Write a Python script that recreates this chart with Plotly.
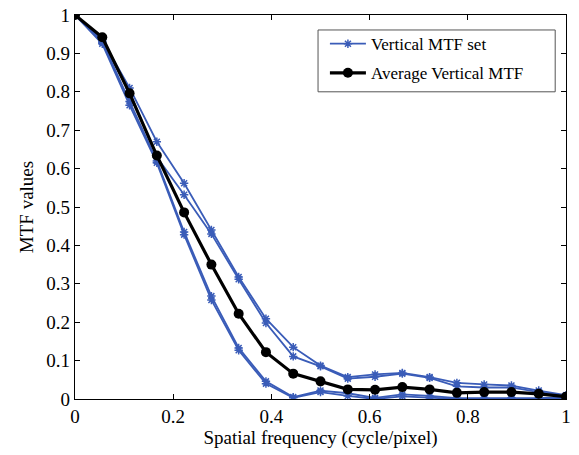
import plotly.graph_objects as go

freq = [k / 18 for k in range(19)]

mtf_a = [1.0, 0.935, 0.81, 0.67, 0.562, 0.44, 0.318, 0.209, 0.135, 0.087, 0.057, 0.064, 0.068, 0.057, 0.042, 0.038, 0.035, 0.022, 0.010]
mtf_b = [1.0, 0.930, 0.80, 0.63, 0.532, 0.43, 0.312, 0.198, 0.111, 0.085, 0.053, 0.058, 0.066, 0.055, 0.033, 0.030, 0.030, 0.018, 0.008]
mtf_c = [1.0, 0.930, 0.775, 0.62, 0.435, 0.268, 0.133, 0.046, 0.005, 0.022, 0.015, 0.003, 0.012, 0.008, 0.002, 0.002, 0.003, 0.002, 0.005]
mtf_d = [1.0, 0.925, 0.765, 0.615, 0.428, 0.258, 0.127, 0.040, 0.003, 0.018, 0.008, 0.000, 0.007, 0.003, 0.000, 0.000, 0.000, 0.000, 0.003]
mtf_avg = [1.0, 0.942, 0.796, 0.634, 0.486, 0.350, 0.222, 0.122, 0.066, 0.046, 0.025, 0.024, 0.031, 0.025, 0.016, 0.018, 0.018, 0.0135, 0.006]

blue = "#3a5cb8"
font = "Liberation Serif"

fig = go.Figure()
for i, ys in enumerate([mtf_a, mtf_b, mtf_c, mtf_d]):
    fig.add_trace(go.Scatter(
        x=freq, y=ys, mode="lines+markers",
        name="Vertical MTF set", legendgroup="set", showlegend=(i == 0),
        line=dict(color=blue, width=1.8),
        marker=dict(symbol="asterisk-open", size=7, color=blue, line=dict(color=blue, width=1.5)),
    ))
fig.add_trace(go.Scatter(
    x=freq, y=mtf_avg, mode="lines+markers", name="Average Vertical MTF",
    line=dict(color="black", width=3.2),
    marker=dict(symbol="circle", size=10, color="black"),
))

axis_common = dict(
    showline=True, linecolor="black", linewidth=1.3, mirror="ticks",
    ticks="inside", ticklen=5, tickcolor="black", showgrid=False, zeroline=False,
    automargin=False, ticklabeloverflow="allow",
    tickfont=dict(family=font, size=19, color="black"),
)
fig.update_xaxes(range=[0, 1], tickvals=[0, 0.2, 0.4, 0.6, 0.8, 1],
                 ticktext=["0", "0.2", "0.4", "0.6", "0.8", "1"],
                 title=dict(text="Spatial frequency (cycle/pixel)", font=dict(family=font, size=19, color="black"), standoff=4),
                 **axis_common)
fig.update_yaxes(range=[0, 1], tickvals=[i / 10 for i in range(11)],
                 ticktext=["0", "0.1", "0.2", "0.3", "0.4", "0.5", "0.6", "0.7", "0.8", "0.9", "1"],
                 title=dict(text="MTF values", font=dict(family=font, size=19, color="black"), standoff=7),
                 **axis_common)

# legend frame
fig.add_shape(type="rect", xref="paper", yref="paper",
              x0=0.495, x1=0.978, y0=0.80, y1=0.961,
              line=dict(color="#555", width=1), fillcolor="white", layer="above")

fig.update_layout(
    width=579, height=455,
    margin=dict(l=75, r=13, t=15, b=55.5),
    paper_bgcolor="white", plot_bgcolor="white",
    legend=dict(x=0.509, y=0.971, xanchor="left", yanchor="top",
                bgcolor="rgba(0,0,0,0)", borderwidth=0,
                font=dict(family=font, size=17, color="black"),
                itemwidth=36, tracegroupgap=4),
    showlegend=True,
)
fig.write_html("out.html", config={"displayModeBar": False},
               post_script="document.body.style.margin='0';document.body.style.overflow='hidden';")
